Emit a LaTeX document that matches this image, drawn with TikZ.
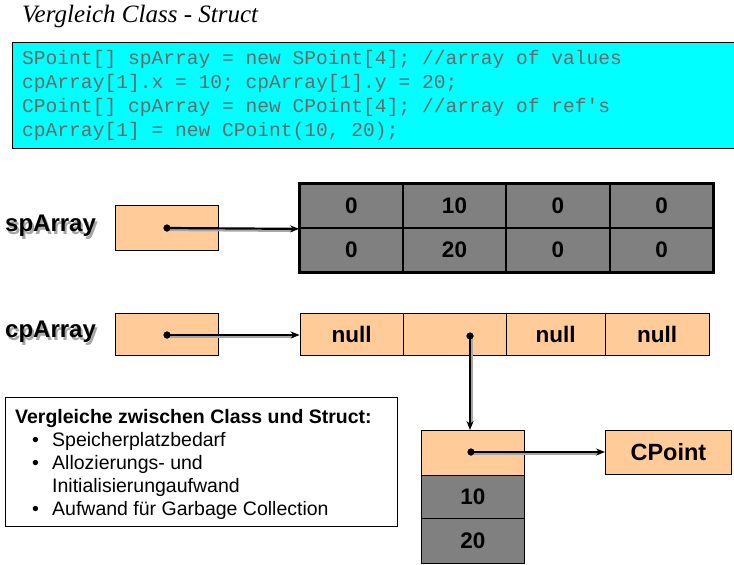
\documentclass[tikz,border=0pt]{standalone}
\usepackage{fontspec}
\setmainfont{Liberation Sans}
\newfontfamily\titlefont{Liberation Serif}
\newfontfamily\codefont{Liberation Mono}
\usetikzlibrary{arrows.meta}
\definecolor{peach}{RGB}{255,204,153}
\definecolor{cellgray}{RGB}{128,128,128}
\definecolor{codecyan}{RGB}{0,255,255}
\definecolor{codetext}{RGB}{105,105,105}
\newcommand{\shadowtext}[1]{\rlap{\hspace{2pt}\raisebox{-2.5pt}{\color{black!35}#1}}#1}
\tikzset{
  cellbase/.style={draw, inner sep=0pt, font=\fontsize{22.5}{24}\selectfont\bfseries},
  graycell/.style={cellbase, fill=cellgray, line width=1.8pt, minimum width=103pt, minimum height=44pt},
  peachcell/.style={cellbase, fill=peach, line width=0.8pt, minimum height=42pt},
  refbox/.style={draw, fill=peach, line width=0.8pt, inner sep=0pt, minimum width=103pt, minimum height=44pt},
  varlabel/.style={font=\fontsize{24}{26}\selectfont\bfseries, inner sep=0pt},
  ptr/.style={line width=2.2pt, -{Stealth[length=9pt,width=7pt]}},
  ptrshadow/.style={line width=2.2pt, draw=black!35},
  dotmark/.style={circle, fill=black, inner sep=0pt, minimum size=7pt}
}
\begin{document}
\begin{tikzpicture}[x=1pt,y=-1pt]
\useasboundingbox (0,0) rectangle (734,565);
% title
\node[anchor=base west, inner sep=0pt, font=\titlefont\itshape\fontsize{25}{27}\selectfont] (title) at (22,22) {Vergleich Class - Struct};
% code box
\node[draw, fill=codecyan, line width=0.8pt, anchor=north west, minimum width=722pt, minimum height=106pt] (codebox) at (12,42) {};
\node[anchor=north west, inner sep=0pt, align=left, text=codetext, font=\codefont\fontsize{19.6}{24}\selectfont] (code) at (22,50)
{SPoint[] spArray = new SPoint[4]; //array of values\\
cpArray[1].x = 10; cpArray[1].y = 20;\\
CPoint[] cpArray = new CPoint[4]; //array of ref's\\
cpArray[1] = new CPoint(10, 20);};

% labels with shadow
\node[varlabel, anchor=west] (splabel) at (5,227) {\shadowtext{spArray}};
\node[varlabel, anchor=west] (cplabel) at (5,333) {\shadowtext{cpArray}};

% spArray reference box
\node[refbox, anchor=north west, minimum height=45pt] (spref) at (115,205) {};
% value array
\node[graycell] (s00) at (351.5,206) {0};
\node[graycell] (s01) at (454.5,206) {10};
\node[graycell] (s02) at (558,206) {0};
\node[graycell] (s03) at (661.5,206) {0};
\node[graycell] (s10) at (351.5,250) {0};
\node[graycell] (s11) at (454.5,250) {20};
\node[graycell] (s12) at (558,250) {0};
\node[graycell] (s13) at (661.5,250) {0};
\draw[line width=2.6pt] (s00.north west) rectangle (s13.south east);

% cpArray reference box
\node[refbox, anchor=north west, minimum height=42pt] (cpref) at (115,313) {};
% ref array
\node[peachcell, minimum width=103pt] (c0) at (351.5,334) {null};
\node[peachcell, minimum width=103pt] (c1) at (454.5,334) {};
\node[peachcell, minimum width=99pt] (c2) at (555.5,334) {null};
\node[peachcell, minimum width=104pt] (c3) at (657,334) {null};

% CPoint object
\node[peachcell, anchor=north west, minimum width=103pt, minimum height=45pt] (o0) at (421,430) {};
\node[cellbase, fill=cellgray, line width=0.8pt, anchor=north west, minimum width=103pt, minimum height=43pt] (o1) at (421,475) {10};
\node[cellbase, fill=cellgray, line width=0.8pt, anchor=north west, minimum width=103pt, minimum height=45pt] (o2) at (421,518) {20};
\node[peachcell, anchor=north west, minimum width=126pt, minimum height=44pt, font=\fontsize{23.5}{25}\selectfont\bfseries] (cpt) at (605,430) {CPoint};

% pointer start points
\node[dotmark] (d1) at (167,228) {};
\node[dotmark] (d2) at (167,335) {};
\node[dotmark] (d3) at (470,336) {};
\node[dotmark] (d4) at (471,452) {};

% pointers
\draw[ptrshadow] ([shift={(1.5,2)}]d1.center) -- ([shift={(-6,2)}]s00.south west);
\draw[ptr] (d1.center) -- (s00.south west);
\draw[ptrshadow] ([shift={(1.5,2)}]d2.center) -- ([shift={(-6,2)}]d2.center -| c0.west);
\draw[ptr] (d2.center) -- (d2.center -| c0.west);
\draw[ptrshadow] ([shift={(2,1.5)}]d3.center) -- ([shift={(2,-6)}]d3.center |- o0.north);
\draw[ptr] (d3.center) -- (d3.center |- o0.north);
\draw[ptrshadow] ([shift={(1.5,2)}]d4.center) -- ([shift={(-6,2)}]d4.center -| cpt.west);
\draw[ptr] (d4.center) -- (d4.center -| cpt.west);
\node[dotmark] at (d1) {};
\node[dotmark] at (d2) {};
\node[dotmark] at (d3) {};
\node[dotmark] at (d4) {};

% comparison text box
\node[draw, line width=0.8pt, anchor=north west, minimum width=392pt, minimum height=129pt, inner sep=0pt] (cmpbox) at (5,397) {};
\node[anchor=north west, inner sep=0pt, align=left, font=\fontsize{19.5}{23}\selectfont] (cmp) at (15,409)
{\textbf{Vergleiche zwischen Class und Struct:}\\
\hspace*{17pt}\makebox[20pt][l]{\textbullet}Speicherplatzbedarf\\
\hspace*{17pt}\makebox[20pt][l]{\textbullet}Allozierungs- und\\
\hspace*{37pt}Initialisierungaufwand\\
\hspace*{17pt}\makebox[20pt][l]{\textbullet}Aufwand für Garbage Collection};
\end{tikzpicture}
\end{document}
